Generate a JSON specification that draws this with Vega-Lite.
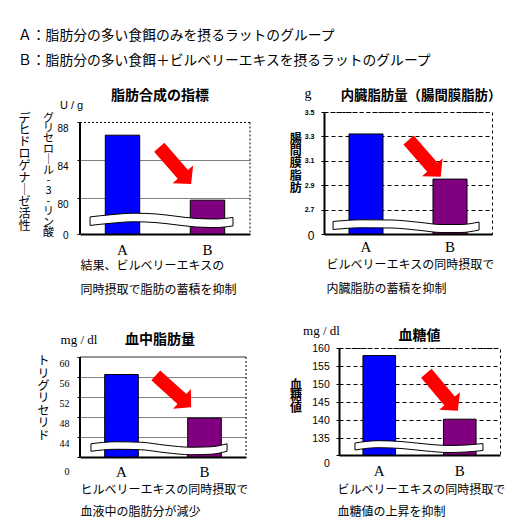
{
  "$schema": "https://vega.github.io/schema/vega-lite/v6.json",
  "background": "white",
  "padding": {"left": 17, "top": 29, "right": 5, "bottom": 5},
  "title": {
    "text": ["Ａ：脂肪分の多い食餌のみを摂るラットのグループ", "Ｂ：脂肪分の多い食餌＋ビルベリーエキスを摂るラットのグループ"],
    "anchor": "start", "frame": "bounds", "fontSize": 13.8, "fontWeight": "normal", "font": "Noto Sans CJK JP",
    "lineHeight": 25, "offset": 18, "color": "black"
  },
  "spacing": 28,
  "vconcat": [
    {
      "bounds": "flush",
      "spacing": 74,
      "hconcat": [
        {
          "width": 170, "height": 122,
          "title": {"text": "脂肪合成の指標", "frame": "group", "dx": -5, "offset": -4, "fontSize": 14, "fontWeight": "bold", "font": "Noto Sans CJK JP", "color": "black"},
          "data": {"values": [{"group": "A", "value": 86.56}, {"group": "B", "value": 79.72}]},
          "resolve": {"scale": {"x": "independent"}, "axis": {"x": "independent", "y": "independent"}},
          "layer": [
            {"data": {"values": [{}]}, "mark": {"type": "rule", "color": "black", "strokeWidth": 1, "strokeDash": [2, 2]},
             "encoding": {"y": {"datum": 87.9, "type": "quantitative", "axis": null}}},
            {"data": {"values": [{}]}, "mark": {"type": "rule", "color": "black", "strokeWidth": 1, "strokeDash": [2, 2]},
             "encoding": {"x": {"datum": 1, "type": "quantitative", "scale": {"domain": [0, 1]}, "axis": null}, "y": {"datum": 87.9, "type": "quantitative", "axis": null}, "y2": {"datum": 76.16}}},
            {"data": {"values": [{}]}, "mark": {"type": "rule", "color": "black", "strokeWidth": 2},
             "encoding": {"x": {"datum": 0, "type": "quantitative", "scale": {"domain": [0, 1]}, "axis": null}, "y": {"datum": 87.9, "type": "quantitative", "axis": null}, "y2": {"datum": 76.16}}},
            {
              "mark": {"type": "bar", "stroke": "black", "strokeWidth": 1},
              "encoding": {
                "x": {"field": "group", "type": "nominal", "scale": {"paddingInner": 0.595, "paddingOuter": 0.2975},
                  "axis": {"labelAngle": 0, "labelFont": "Liberation Serif", "labelFontSize": 15, "labelPadding": 8.4, "ticks": false, "tickSize": 0, "domainColor": "black", "domainWidth": 2,
                    "title": ["結果、ビルベリーエキスの", "同時摂取で脂肪の蓄積を抑制"], "titleFont": "Noto Sans CJK JP", "titleFontSize": 12, "titleFontWeight": "normal", "titleAlign": "left", "titleBaseline": "top", "titleX": 0, "titleY": 26, "titleLineHeight": 24.3}},
                "y": {"field": "value", "type": "quantitative", "scale": {"domain": [76.16, 89], "nice": false, "zero": false},
                  "axis": {"values": [76.16, 80, 84, 88], "labelExpr": "datum.value < 77 ? '0' : datum.label", "domain": false, "tickSize": 3, "labelPadding": 9,
                    "labelFont": "Liberation Sans", "labelFontSize": 10, "labelFlush": false, "labelOverlap": false,
                    "labelOffset": {"condition": {"test": "datum.value < 77", "value": 1}, "value": 7},
                    "grid": true, "gridColor": {"condition": {"test": "datum.value > 77 && datum.value < 87", "value": "#808080"}, "value": "rgba(0,0,0,0)"},
                    "title": "U / g", "titleAngle": 0, "titleAlign": "center", "titleBaseline": "middle", "titleX": -9, "titleY": -7, "titleFont": "Liberation Sans", "titleFontSize": 11, "titleFontWeight": "normal"}},
                "y2": {"datum": 76.16},
                "color": {"field": "group", "type": "nominal", "scale": {"domain": ["A", "B"], "range": ["#0000ff", "#800080"]}, "legend": null}
              }
            },
            {
              "data": {"values": [
                {"x": 0.059, "top": 77.96, "bottom": 77.06},
                {"x": 0.182, "top": 78.19, "bottom": 77.29},
                {"x": 0.318, "top": 78.35, "bottom": 77.45},
                {"x": 0.447, "top": 78.27, "bottom": 77.36},
                {"x": 0.565, "top": 78.03, "bottom": 77.13},
                {"x": 0.682, "top": 77.80, "bottom": 76.90},
                {"x": 0.8, "top": 77.74, "bottom": 76.84},
                {"x": 0.9, "top": 77.91, "bottom": 77.01}
              ]},
              "mark": {"type": "area", "fill": "white", "stroke": "black", "strokeWidth": 1, "interpolate": "monotone"},
              "encoding": {
                "x": {"field": "x", "type": "quantitative", "scale": {"domain": [0, 1]}, "axis": null},
                "y": {"field": "top", "type": "quantitative",
                  "axis": {"orient": "left", "labels": false, "ticks": false, "domain": false, "grid": false,
                    "title": ["グ", "リ", "セ", "ロ", "｜", "ル", "-", "3", "-", "リ", "ン", "酸"], "titleAngle": 0, "titleAlign": "center", "titleBaseline": "top",
                    "titleX": -32, "titleY": 0, "titleLineHeight": 10.4, "titleFont": "Noto Sans CJK JP", "titleFontSize": 11, "titleFontWeight": "normal"}},
                "y2": {"field": "bottom"}
              }
            },
            {
              "data": {"values": [{}]},
              "mark": {"type": "point", "shape": "M -1 -0.28 L 0.48 -0.28 L 0.48 -0.56 L 1 0 L 0.48 0.56 L 0.48 0.28 L -1 0.28 Z", "filled": true, "color": "#ff0000", "opacity": 1, "strokeWidth": 0, "size": 2362, "angle": 49},
              "encoding": {
                "x": {"datum": 0.56, "type": "quantitative", "scale": {"domain": [0, 1]}, "axis": null},
                "y": {"datum": 83.36, "type": "quantitative",
                  "axis": {"orient": "left", "labels": false, "ticks": false, "domain": false, "grid": false,
                    "title": ["デ", "ヒ", "ド", "ロ", "ゲ", "ナ", "｜", "ゼ", "活", "性"], "titleAngle": 0, "titleAlign": "center", "titleBaseline": "top",
                    "titleX": -56, "titleY": 1, "titleLineHeight": 11.9, "titleFont": "Noto Sans CJK JP", "titleFontSize": 12, "titleFontWeight": "normal"}}
              }
            }
          ]
        },
        {
          "width": 168, "height": 122,
          "view": {"stroke": "black", "strokeDash": [3, 3], "strokeWidth": 1},
          "title": {"text": "内臓脂肪量（腸間膜脂肪）", "frame": "group", "dx": 13, "offset": -16, "fontSize": 13.4, "fontWeight": "bold", "font": "Noto Sans CJK JP", "color": "black"},
          "data": {"values": [{"group": "A", "value": 3.32}, {"group": "B", "value": 2.95}]},
          "resolve": {"scale": {"x": "independent"}, "axis": {"x": "independent", "y": "independent"}},
          "layer": [
            {
              "mark": {"type": "bar", "stroke": "black", "strokeWidth": 1},
              "encoding": {
                "x": {"field": "group", "type": "nominal", "scale": {"paddingInner": 0.595, "paddingOuter": 0.2975},
                  "axis": {"labelAngle": 0, "labelFont": "Liberation Serif", "labelFontSize": 15, "labelPadding": 5.8, "ticks": false, "tickSize": 0, "domainColor": "black", "domainWidth": 2,
                    "title": ["ビルベリーエキスの同時摂取で", "内臓脂肪の蓄積を抑制"], "titleFont": "Noto Sans CJK JP", "titleFontSize": 12, "titleFontWeight": "normal", "titleAlign": "left", "titleBaseline": "top", "titleX": 2, "titleY": 25.4, "titleLineHeight": 24.5}},
                "y": {"field": "value", "type": "quantitative", "scale": {"domain": [2.5, 3.5], "nice": false, "zero": false},
                  "axis": {"values": [2.5, 2.7, 2.9, 3.1, 3.3, 3.5], "labelExpr": "datum.value < 2.6 ? '0' : format(datum.value, '.1f')",
                    "domain": true, "domainColor": "black", "domainWidth": 2, "tickSize": 3, "labelPadding": 7,
                    "labelFont": "Liberation Sans", "labelFlush": false, "labelOverlap": false,
                    "labelFontWeight": {"condition": {"test": "datum.value < 2.6", "value": "normal"}, "value": "bold"},
                    "labelFontSize": {"condition": {"test": "datum.value < 2.6", "value": 12}, "value": 7},
                    "labelOffset": {"condition": {"test": "datum.value < 2.6", "value": 1}, "value": 0},
                    "grid": true, "gridColor": "black", "gridDash": [4, 3],
                    "title": "g", "titleAngle": 0, "titleAlign": "center", "titleBaseline": "middle", "titleX": -16.5, "titleY": -18.7, "titleFont": "Liberation Serif", "titleFontSize": 14, "titleFontWeight": "normal"}},
                "y2": {"datum": 2.5},
                "color": {"field": "group", "type": "nominal", "scale": {"domain": ["A", "B"], "range": ["#0000ff", "#800080"]}, "legend": null}
              }
            },
            {
              "data": {"values": [
                {"x": 0.054, "top": 2.6025, "bottom": 2.5369},
                {"x": 0.22, "top": 2.6164, "bottom": 2.5508},
                {"x": 0.399, "top": 2.6148, "bottom": 2.5492},
                {"x": 0.577, "top": 2.5943, "bottom": 2.5287},
                {"x": 0.696, "top": 2.5779, "bottom": 2.5123},
                {"x": 0.815, "top": 2.5779, "bottom": 2.5123},
                {"x": 0.923, "top": 2.5984, "bottom": 2.5328}
              ]},
              "mark": {"type": "area", "fill": "white", "stroke": "black", "strokeWidth": 1, "interpolate": "monotone"},
              "encoding": {
                "x": {"field": "x", "type": "quantitative", "scale": {"domain": [0, 1]}, "axis": null},
                "y": {"field": "top", "type": "quantitative",
                  "axis": {"orient": "left", "labels": false, "ticks": false, "domain": false, "grid": false,
                    "title": ["腸", "間", "膜", "脂", "肪"], "titleAngle": 0, "titleAlign": "center", "titleBaseline": "top",
                    "titleX": -28.7, "titleY": 21.3, "titleLineHeight": 12.3, "titleFont": "Noto Sans CJK JP", "titleFontSize": 12, "titleFontWeight": "bold"}},
                "y2": {"field": "bottom"}
              }
            },
            {
              "data": {"values": [{}]},
              "mark": {"type": "point", "shape": "M -1 -0.28 L 0.48 -0.28 L 0.48 -0.56 L 1 0 L 0.48 0.56 L 0.48 0.28 L -1 0.28 Z", "filled": true, "color": "#ff0000", "opacity": 1, "strokeWidth": 0, "size": 2391, "angle": 49},
              "encoding": {
                "x": {"datum": 0.599, "type": "quantitative", "scale": {"domain": [0, 1]}, "axis": null},
                "y": {"datum": 3.12, "type": "quantitative", "axis": null}
              }
            }
          ]
        }
      ]
    },
    {
      "bounds": "flush",
      "spacing": 93,
      "hconcat": [
        {
          "width": 166, "height": 109,
          "title": {"text": "血中脂肪量", "frame": "group", "dx": -3, "offset": -14, "fontSize": 14, "fontWeight": "bold", "font": "Noto Sans CJK JP", "color": "black"},
          "data": {"values": [{"group": "A", "value": 56.5}, {"group": "B", "value": 47.8}]},
          "resolve": {"scale": {"x": "independent"}, "axis": {"x": "independent", "y": "independent"}},
          "layer": [
            {"data": {"values": [{}]}, "mark": {"type": "rule", "color": "#303030", "strokeWidth": 1},
             "encoding": {"y": {"datum": 60, "type": "quantitative", "axis": null}}},
            {"data": {"values": [{}]}, "mark": {"type": "rule", "color": "black", "strokeWidth": 1, "strokeDash": [2, 2]},
             "encoding": {"x": {"datum": 1, "type": "quantitative", "scale": {"domain": [0, 1]}, "axis": null}, "y": {"datum": 60, "type": "quantitative", "axis": null}, "y2": {"datum": 40}}},
            {"data": {"values": [{}]}, "mark": {"type": "rule", "color": "black", "strokeWidth": 2},
             "encoding": {"x": {"datum": 0, "type": "quantitative", "scale": {"domain": [0, 1]}, "axis": null}, "y": {"datum": 60, "type": "quantitative", "axis": null}, "y2": {"datum": 40}}},
            {
              "mark": {"type": "bar", "stroke": "black", "strokeWidth": 1},
              "encoding": {
                "x": {"field": "group", "type": "nominal", "scale": {"paddingInner": 0.595, "paddingOuter": 0.2975},
                  "axis": {"labelAngle": 0, "labelFont": "Liberation Serif", "labelFontSize": 15, "labelPadding": 7.4, "ticks": false, "tickSize": 0, "domainColor": "black", "domainWidth": 2,
                    "title": ["ヒルベリーエキスの同時摂取で", "血液中の脂肪分が減少"], "titleFont": "Noto Sans CJK JP", "titleFontSize": 12, "titleFontWeight": "normal", "titleAlign": "left", "titleBaseline": "top", "titleX": 0, "titleY": 27.1, "titleLineHeight": 22.7}},
                "y": {"field": "value", "type": "quantitative", "scale": {"domain": [40, 61.8], "nice": false, "zero": false},
                  "axis": {"values": [40, 44, 48, 52, 56, 60], "labelExpr": "datum.value < 41 ? '0' : datum.label", "domain": false, "tickSize": 3, "labelPadding": 8,
                    "labelFont": "Liberation Serif", "labelFontSize": 10, "labelFlush": false, "labelOverlap": false,
                    "labelOffset": {"condition": {"test": "datum.value < 41", "value": 14.3}, "value": 6.7},
                    "grid": true, "gridColor": {"condition": {"test": "datum.value > 41 && datum.value < 59", "value": "#808080"}, "value": "rgba(0,0,0,0)"},
                    "title": "mg / dl", "titleAngle": 0, "titleAlign": "center", "titleBaseline": "middle", "titleX": -1.5, "titleY": -9, "titleFont": "Liberation Serif", "titleFontSize": 13, "titleFontWeight": "normal"}},
                "y2": {"datum": 40},
                "color": {"field": "group", "type": "nominal", "scale": {"domain": ["A", "B"], "range": ["#0000ff", "#800080"]}, "legend": null}
              }
            },
            {
              "data": {"values": [
                {"x": 0.066, "top": 42.65, "bottom": 41.15},
                {"x": 0.217, "top": 43.05, "bottom": 41.55},
                {"x": 0.367, "top": 42.95, "bottom": 41.45},
                {"x": 0.518, "top": 42.35, "bottom": 40.85},
                {"x": 0.669, "top": 41.95, "bottom": 40.45},
                {"x": 0.789, "top": 42.05, "bottom": 40.55},
                {"x": 0.886, "top": 42.65, "bottom": 41.15}
              ]},
              "mark": {"type": "area", "fill": "white", "stroke": "black", "strokeWidth": 1, "interpolate": "monotone"},
              "encoding": {
                "x": {"field": "x", "type": "quantitative", "scale": {"domain": [0, 1]}, "axis": null},
                "y": {"field": "top", "type": "quantitative",
                  "axis": {"orient": "left", "labels": false, "ticks": false, "domain": false, "grid": false,
                    "title": ["ト", "リ", "グ", "リ", "セ", "リ", "ド"], "titleAngle": 0, "titleAlign": "center", "titleBaseline": "top",
                    "titleX": -37, "titleY": 7.7, "titleLineHeight": 12.4, "titleFont": "Noto Sans CJK JP", "titleFontSize": 12, "titleFontWeight": "normal"}},
                "y2": {"field": "bottom"}
              }
            },
            {
              "data": {"values": [{}]},
              "mark": {"type": "point", "shape": "M -1 -0.28 L 0.48 -0.28 L 0.48 -0.56 L 1 0 L 0.48 0.56 L 0.48 0.28 L -1 0.28 Z", "filled": true, "color": "#ff0000", "opacity": 1, "strokeWidth": 0, "size": 2266, "angle": 42},
              "encoding": {
                "x": {"datum": 0.563, "type": "quantitative", "scale": {"domain": [0, 1]}, "axis": null},
                "y": {"datum": 53.14, "type": "quantitative", "axis": null}
              }
            }
          ]
        },
        {
          "width": 161, "height": 107,
          "view": {"stroke": "black", "strokeDash": [3, 3], "strokeWidth": 1},
          "title": {"text": "血糖値", "frame": "group", "dx": 0, "offset": -18, "fontSize": 14, "fontWeight": "bold", "font": "Noto Sans CJK JP", "color": "black"},
          "data": {"values": [{"group": "A", "value": 157.9}, {"group": "B", "value": 140.3}]},
          "resolve": {"scale": {"x": "independent"}, "axis": {"x": "independent", "y": "independent"}},
          "layer": [
            {
              "mark": {"type": "bar", "stroke": "black", "strokeWidth": 1},
              "encoding": {
                "x": {"field": "group", "type": "nominal", "scale": {"paddingInner": 0.595, "paddingOuter": 0.2975},
                  "axis": {"labelAngle": 0, "labelFont": "Liberation Serif", "labelFontSize": 15, "labelPadding": 8.1, "ticks": false, "tickSize": 0, "domainColor": "black", "domainWidth": 2,
                    "title": ["ビルベリーエキスの同時摂取で", "血糖値の上昇を抑制"], "titleFont": "Noto Sans CJK JP", "titleFontSize": 12, "titleFontWeight": "normal", "titleAlign": "left", "titleBaseline": "top", "titleX": -2, "titleY": 29.1, "titleLineHeight": 22.7}},
                "y": {"field": "value", "type": "quantitative", "scale": {"domain": [130.4, 160], "nice": false, "zero": false},
                  "axis": {"values": [130.4, 135, 140, 145, 150, 155, 160], "labelExpr": "datum.value < 131 ? '0' : datum.label",
                    "domain": true, "domainColor": "black", "domainWidth": 2, "tickSize": 3, "labelPadding": 6.7,
                    "labelFont": "Liberation Sans", "labelFontSize": 10.5, "labelFlush": false, "labelOverlap": false,
                    "labelOffset": {"condition": {"test": "datum.value < 131", "value": 8}, "value": 0},
                    "grid": true, "gridColor": "black", "gridDash": [4, 3],
                    "title": "mg / dl", "titleAngle": 0, "titleAlign": "center", "titleBaseline": "middle", "titleX": -18, "titleY": -17.3, "titleFont": "Liberation Serif", "titleFontSize": 13, "titleFontWeight": "normal"}},
                "y2": {"datum": 130.4},
                "color": {"field": "group", "type": "nominal", "scale": {"domain": ["A", "B"], "range": ["#0000ff", "#800080"]}, "legend": null}
              }
            },
            {
              "data": {"values": [
                {"x": 0.099, "top": 133.72, "bottom": 131.78},
                {"x": 0.242, "top": 134.36, "bottom": 132.42},
                {"x": 0.385, "top": 134.13, "bottom": 132.2},
                {"x": 0.54, "top": 133.44, "bottom": 131.51},
                {"x": 0.677, "top": 133.03, "bottom": 131.09},
                {"x": 0.789, "top": 133.16, "bottom": 131.23},
                {"x": 0.894, "top": 133.58, "bottom": 131.65}
              ]},
              "mark": {"type": "area", "fill": "white", "stroke": "black", "strokeWidth": 1, "interpolate": "monotone"},
              "encoding": {
                "x": {"field": "x", "type": "quantitative", "scale": {"domain": [0, 1]}, "axis": null},
                "y": {"field": "top", "type": "quantitative",
                  "axis": {"orient": "left", "labels": false, "ticks": false, "domain": false, "grid": false,
                    "title": ["血", "糖", "値"], "titleAngle": 0, "titleAlign": "center", "titleBaseline": "top",
                    "titleX": -43.5, "titleY": 31, "titleLineHeight": 11.5, "titleFont": "Noto Sans CJK JP", "titleFontSize": 12, "titleFontWeight": "bold"}},
                "y2": {"field": "bottom"}
              }
            },
            {
              "data": {"values": [{}]},
              "mark": {"type": "point", "shape": "M -1 -0.28 L 0.48 -0.28 L 0.48 -0.56 L 1 0 L 0.48 0.56 L 0.48 0.28 L -1 0.28 Z", "filled": true, "color": "#ff0000", "opacity": 1, "strokeWidth": 0, "size": 2391, "angle": 50},
              "encoding": {
                "x": {"datum": 0.64, "type": "quantitative", "scale": {"domain": [0, 1]}, "axis": null},
                "y": {"datum": 147.83, "type": "quantitative", "axis": null}
              }
            }
          ]
        }
      ]
    }
  ],
  "config": {
    "view": {"stroke": null},
    "font": "Noto Sans CJK JP",
    "axis": {"labelColor": "black", "titleColor": "black", "domainColor": "black", "tickColor": "black"},
    "title": {"color": "black"}
  }
}
